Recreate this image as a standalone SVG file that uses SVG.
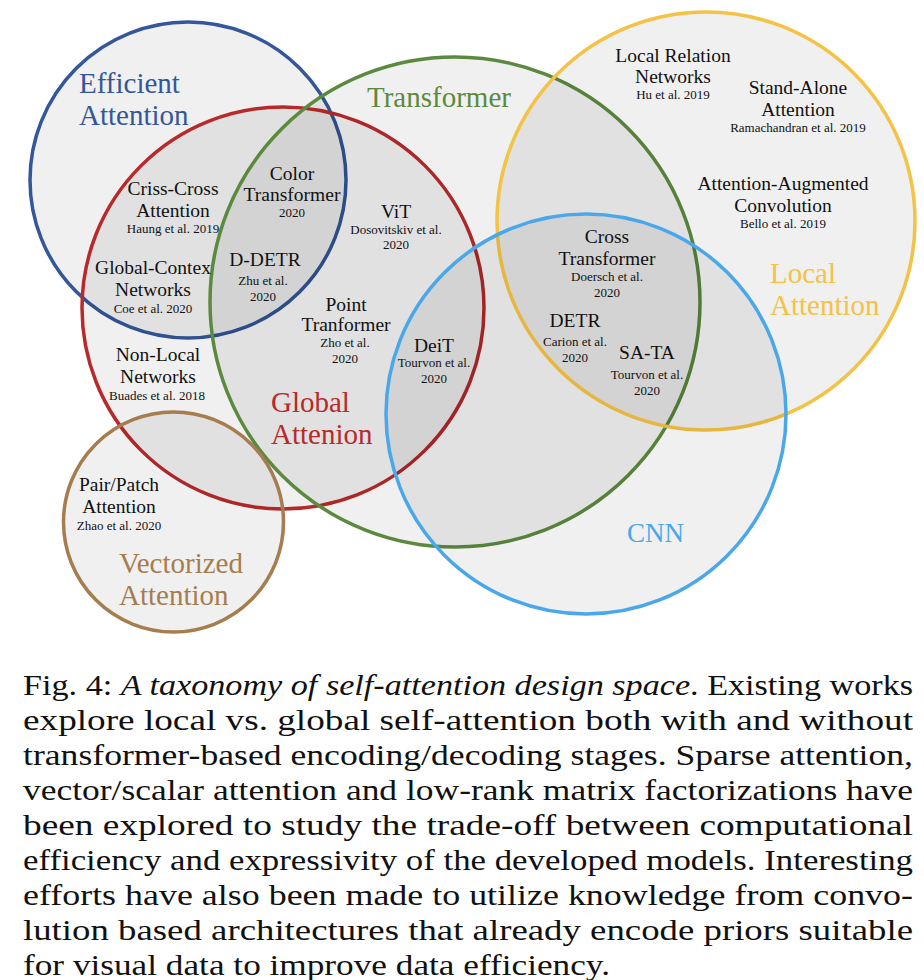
<svg xmlns="http://www.w3.org/2000/svg" width="924" height="980" viewBox="0 0 924 980">
<style>
.c{fill:#000;fill-opacity:0.058;stroke-width:3.5}
.t{font-family:"Liberation Serif","Times New Roman",serif;font-size:19.5px;fill:#111;text-anchor:middle}
.s{font-family:"Liberation Serif","Times New Roman",serif;font-size:13px;fill:#111;text-anchor:middle}
.k{font-family:"Liberation Serif","Times New Roman",serif;font-size:29px}
.cap{font-family:"Liberation Serif","Times New Roman",serif;font-size:29px;fill:#111}
</style>
<rect width="924" height="980" fill="#fff"/>
<g id="circles">
<g id="efficient-attention"><circle class="c" cx="188" cy="180" r="158" stroke="#34579a"/></g>
<g id="global-attention"><circle class="c" cx="283" cy="308" r="201" stroke="#b8292b"/></g>
<g id="transformer"><circle class="c" cx="455" cy="302" r="245" stroke="#5b8a3e"/></g>
<g id="local-attention"><circle class="c" cx="706" cy="221" r="209" stroke="#f4c244"/></g>
<g id="cnn"><circle class="c" cx="586" cy="414" r="200" stroke="#4aa8ea"/></g>
<g id="vectorized-attention"><circle class="c" cx="173.5" cy="522" r="110" stroke="#a67d4e"/></g>
</g>
<g id="category-labels">
<text class="k" x="79" y="93" fill="#34579a">Efficient</text>
<text class="k" x="79" y="125" fill="#34579a">Attention</text>
<text class="k" x="367" y="107" fill="#5b8a3e">Transformer</text>
<text class="k" x="271" y="412" fill="#b8292b">Global</text>
<text class="k" x="271" y="444" fill="#b8292b">Attenion</text>
<text class="k" x="770" y="283" fill="#f4c244">Local</text>
<text class="k" x="770" y="315" fill="#f4c244">Attention</text>
<text class="k" x="627" y="542" fill="#4aa8ea" style="font-size:27px">CNN</text>
<text class="k" x="119" y="573" fill="#a67d4e">Vectorized</text>
<text class="k" x="119" y="605" fill="#a67d4e">Attention</text>
</g>
<g id="criss-cross"><text class="t" x="173" y="195">Criss-Cross</text><text class="t" x="173" y="217">Attention</text><text class="s" x="173" y="233">Haung et al. 2019</text></g>
<g id="color-transformer"><text class="t" x="292" y="180">Color</text><text class="t" x="292" y="201">Transformer</text><text class="s" x="292" y="217">2020</text></g>
<g id="vit"><text class="t" x="396" y="218">ViT</text><text class="s" x="396" y="234">Dosovitskiv  et al.</text><text class="s" x="396" y="249">2020</text></g>
<g id="global-context"><text class="t" x="153" y="274">Global-Contex</text><text class="t" x="153" y="296">Networks</text><text class="s" x="153" y="313">Coe et al. 2020</text></g>
<g id="d-detr"><text class="t" x="265" y="266">D-DETR</text><text class="s" x="263" y="285">Zhu et al.</text><text class="s" x="263" y="301">2020</text></g>
<g id="point-transformer"><text class="t" x="346" y="311">Point</text><text class="t" x="346" y="331">Tranformer</text><text class="s" x="345" y="347">Zho et al.</text><text class="s" x="345" y="363">2020</text></g>
<g id="deit"><text class="t" x="434" y="352">DeiT</text><text class="s" x="434" y="367">Tourvon et al.</text><text class="s" x="434" y="383">2020</text></g>
<g id="non-local"><text class="t" x="158" y="361">Non-Local</text><text class="t" x="158" y="383">Networks</text><text class="s" x="157" y="400">Buades et al. 2018</text></g>
<g id="pair-patch"><text class="t" x="119" y="491">Pair/Patch</text><text class="t" x="119" y="513">Attention</text><text class="s" x="119" y="530">Zhao et al. 2020</text></g>
<g id="local-relation"><text class="t" x="673" y="62">Local Relation</text><text class="t" x="673" y="83">Networks</text><text class="s" x="673" y="99">Hu et al. 2019</text></g>
<g id="stand-alone"><text class="t" x="798" y="94">Stand-Alone</text><text class="t" x="798" y="116">Attention</text><text class="s" x="798" y="132">Ramachandran et al. 2019</text></g>
<g id="attention-augmented"><text class="t" x="783" y="190">Attention-Augmented</text><text class="t" x="783" y="212">Convolution</text><text class="s" x="783" y="228">Bello et al. 2019</text></g>
<g id="cross-transformer"><text class="t" x="607" y="243">Cross</text><text class="t" x="607" y="265">Transformer</text><text class="s" x="607" y="281">Doersch et al.</text><text class="s" x="607" y="297">2020</text></g>
<g id="detr"><text class="t" x="575" y="327">DETR</text><text class="s" x="575" y="346">Carion et al.</text><text class="s" x="575" y="362">2020</text></g>
<g id="sa-ta"><text class="t" x="647" y="359">SA-TA</text><text class="s" x="647" y="379">Tourvon et al.</text><text class="s" x="647" y="395">2020</text></g>
<g id="caption">
<text class="cap" x="23" y="695" textLength="890" lengthAdjust="spacingAndGlyphs">Fig. 4: <tspan font-style="italic">A taxonomy of self-attention design space</tspan>. Existing works</text>
<text class="cap" x="23" y="730" textLength="890" lengthAdjust="spacingAndGlyphs">explore local vs. global self-attention both with and without</text>
<text class="cap" x="23" y="765" textLength="890" lengthAdjust="spacingAndGlyphs">transformer-based encoding/decoding stages. Sparse attention,</text>
<text class="cap" x="23" y="800" textLength="890" lengthAdjust="spacingAndGlyphs">vector/scalar attention and low-rank matrix factorizations have</text>
<text class="cap" x="23" y="835" textLength="890" lengthAdjust="spacingAndGlyphs">been explored to study the trade-off between computational</text>
<text class="cap" x="23" y="870" textLength="890" lengthAdjust="spacingAndGlyphs">efficiency and expressivity of the developed models. Interesting</text>
<text class="cap" x="23" y="905" textLength="890" lengthAdjust="spacingAndGlyphs">efforts have also been made to utilize knowledge from convo-</text>
<text class="cap" x="23" y="940" textLength="890" lengthAdjust="spacingAndGlyphs">lution based architectures that already encode priors suitable</text>
<text class="cap" x="23" y="975" textLength="587" lengthAdjust="spacingAndGlyphs">for visual data to improve data efficiency.</text>
</g>
</svg>
